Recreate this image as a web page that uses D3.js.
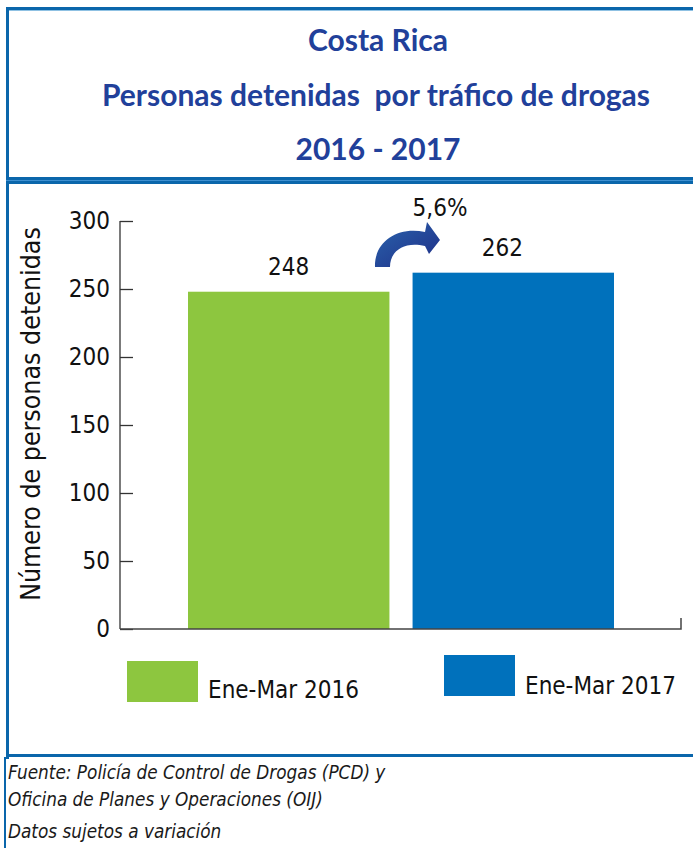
<!DOCTYPE html>
<html>
<head>
<meta charset="utf-8">
<script src="https://cdn.jsdelivr.net/npm/d3@7"></script>
<style>
  body { margin: 0; background: #fff; }
  svg { display: block; }
</style>
</head>
<body>
<div id="chart"></div>
<script>
// data
var titleLines = ["Costa Rica", "Personas detenidas  por tráfico de drogas", "2016 - 2017"];
var categories = ["Ene-Mar 2016", "Ene-Mar 2017"];
var values = [248, 262];
var barColours = ["#8dc63f", "#0071bc"];
var yTicks = [0, 50, 100, 150, 200, 250, 300];
var changeLabel = "5,6%";
var yLabel = "Número de personas detenidas";
var notes = ["Fuente: Policía de Control de Drogas (PCD) y", "Oficina de Planes y Operaciones (OIJ)", "Datos sujetos a variación"];

var W = 693, H = 848;
var blue = "#0a66ab";
var navy = "#21409a";
var condensed = "'Liberation Sans Narrow', 'DejaVu Sans Condensed', sans-serif";

var svg = d3.select("#chart").append("svg")
    .attr("width", W)
    .attr("height", H);

// panel borders
svg.append("rect").attr("x", 6).attr("y", 7).attr("width", W).attr("height", 3).attr("fill", blue);
svg.append("rect").attr("x", 6).attr("y", 7).attr("width", 3).attr("height", 752).attr("fill", blue);
svg.append("rect").attr("x", 9).attr("y", 10).attr("width", W).attr("height", 1).attr("fill", "#8fc1e3");
svg.append("rect").attr("x", 6).attr("y", 177).attr("width", W).attr("height", 7).attr("fill", blue);
svg.append("rect").attr("x", 6).attr("y", 180).attr("width", W).attr("height", 1).attr("fill", "#3d8fd0");
svg.append("rect").attr("x", 6).attr("y", 754).attr("width", W).attr("height", 3).attr("fill", blue);
svg.append("rect").attr("x", 4).attr("y", 757).attr("width", 2).attr("height", H).attr("fill", blue);

// title
svg.selectAll("text.title")
    .data(titleLines)
    .enter()
    .append("text")
    .attr("class", "title")
    .attr("x", function (d, i) { return i == 1 ? 376 : 378; })
    .attr("y", function (d, i) { return 51 + i * 54.5; })
    .attr("text-anchor", "middle")
    .style("font-family", "Lato, sans-serif")
    .style("font-weight", "bold")
    .style("font-size", "30px")
    .style("fill", navy)
    .style("white-space", "pre")
    .text(function (d) { return d; });

// scales
var margin = {left: 120, right: 681, top: 221, bottom: 629};
var x = d3.scaleBand()
    .domain(categories)
    .range([188, 614])
    .paddingInner(0.103)
    .paddingOuter(0);

var y = d3.scaleLinear()
    .domain([0, 300])
    .range([margin.bottom, margin.top]);

// bars
svg.selectAll("rect.bar")
    .data(values)
    .enter()
    .append("rect")
    .attr("class", "bar")
    .attr("x", function (d, i) { return x(categories[i]); })
    .attr("y", function (d) { return y(d); })
    .attr("width", x.bandwidth())
    .attr("height", function (d) { return y(0) - y(d); })
    .style("fill", function (d, i) { return barColours[i]; });

// y axis
var yAxis = d3.axisRight(y)
    .tickValues(yTicks)
    .tickSize(13)
    .tickFormat("");
var gy = svg.append("g")
    .attr("transform", "translate(" + margin.left + ",0)")
    .call(yAxis);
gy.select(".domain").remove();
gy.selectAll("line").attr("stroke", "#333").attr("stroke-width", 1.3);
svg.append("line")
    .attr("x1", margin.left).attr("x2", margin.left)
    .attr("y1", y(300)).attr("y2", y(0))
    .attr("stroke", "#333").attr("stroke-width", 1.3);

// tick labels
svg.selectAll("text.tick-label")
    .data(yTicks)
    .enter()
    .append("text")
    .attr("class", "tick-label")
    .attr("x", 110)
    .attr("y", function (d) { return y(d) + 8; })
    .attr("text-anchor", "end")
    .style("font-family", condensed)
    .style("font-size", "24px")
    .style("fill", "#111")
    .text(function (d) { return d; });

// x axis baseline with end tick
svg.append("path")
    .attr("d", "M" + margin.left + "," + y(0) + "H" + margin.right + "V" + (y(0) - 11))
    .attr("fill", "none")
    .attr("stroke", "#444")
    .attr("stroke-width", 1.5);

// value labels (second one sits a little left of its bar centre)
var labelShift = [0, -11];
svg.selectAll("text.value")
    .data(values)
    .enter()
    .append("text")
    .attr("class", "value")
    .attr("x", function (d, i) { return x(categories[i]) + x.bandwidth() / 2 + labelShift[i]; })
    .attr("y", function (d) { return y(d) - 17; })
    .attr("text-anchor", "middle")
    .style("font-family", condensed)
    .style("font-size", "24px")
    .style("fill", "#111")
    .text(function (d) { return d; });

// y label
svg.append("text")
    .attr("transform", "translate(40,414) rotate(-90)")
    .attr("text-anchor", "middle")
    .style("font-family", condensed)
    .style("font-size", "26.5px")
    .style("fill", "#111")
    .text(yLabel);

// change arrow
var grad = svg.append("defs").append("linearGradient")
    .attr("id", "arrowGrad")
    .attr("x1", "0%").attr("y1", "0%").attr("x2", "100%").attr("y2", "100%");
grad.append("stop").attr("offset", "0%").attr("stop-color", "#2a64ad");
grad.append("stop").attr("offset", "100%").attr("stop-color", "#1f2d86");

svg.append("path")
    .attr("d", "M375,267 C374,243 396,226 425,232 L427,222 L440,240 L429,254 L425,246 C404,241 390,251 390,267 Z")
    .attr("fill", "url(#arrowGrad)");

svg.append("text")
    .attr("x", 440)
    .attr("y", 216)
    .attr("text-anchor", "middle")
    .style("font-family", condensed)
    .style("font-size", "24px")
    .style("fill", "#111")
    .text(changeLabel);

// legend
var legendPos = [{x: 127, y: 661, tx: 208, ty: 698}, {x: 444, y: 655, tx: 525, ty: 694}];
var legend = svg.selectAll("g.legend")
    .data(categories)
    .enter()
    .append("g")
    .attr("class", "legend");
legend.append("rect")
    .attr("x", function (d, i) { return legendPos[i].x; })
    .attr("y", function (d, i) { return legendPos[i].y; })
    .attr("width", 71)
    .attr("height", 41)
    .style("fill", function (d, i) { return barColours[i]; });
legend.append("text")
    .attr("x", function (d, i) { return legendPos[i].tx; })
    .attr("y", function (d, i) { return legendPos[i].ty; })
    .style("font-family", condensed)
    .style("font-size", "24px")
    .style("fill", "#111")
    .text(function (d) { return d; });

// footnotes
svg.selectAll("text.note")
    .data(notes)
    .enter()
    .append("text")
    .attr("class", "note")
    .attr("x", 8)
    .attr("y", function (d, i) { return [779, 806, 838][i]; })
    .style("font-family", condensed)
    .style("font-style", "italic")
    .style("font-size", "18.8px")
    .style("fill", "#1a1a1a")
    .text(function (d) { return d; });
</script>
</body>
</html>
